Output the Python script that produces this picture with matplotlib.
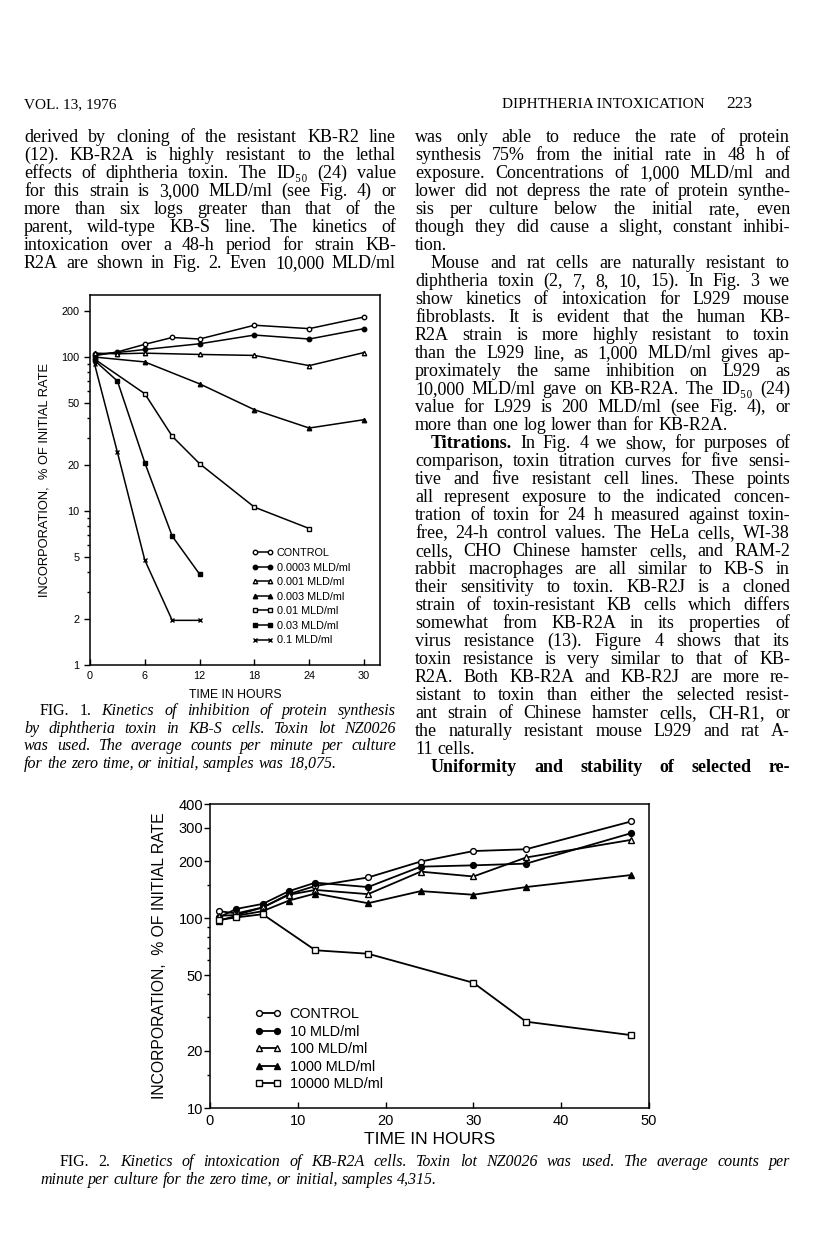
import matplotlib
matplotlib.use("Agg")
from matplotlib import pyplot as plt
from matplotlib.ticker import FixedLocator, NullFormatter, FixedFormatter

SERIF = ["Liberation Serif", "DejaVu Serif"]
SANS = ["Liberation Sans", "DejaVu Sans"]
W, H = 816, 1256

# ---- Fig. 1 : KB-S cells ----
fig1_labels = ["CONTROL", "0.0003 MLD/ml", "0.001 MLD/ml", "0.003 MLD/ml",
               "0.01 MLD/ml", "0.03 MLD/ml", "0.1 MLD/ml"]
fig1_markers = ["o", "o", "^", "^", "s", "s", "x"]
fig1_filled = [False, True, False, True, False, True, True]
fig1_hours = [
  [0.5, 3, 6, 9, 12, 18, 24, 30],
  [0.5, 3, 6, 12, 18, 24, 30],
  [0.5, 3, 6, 12, 18, 24, 30],
  [0.5, 6, 12, 18, 24, 30],
  [0.5, 6, 9, 12, 18, 24],
  [0.5, 3, 6, 9, 12],
  [0.5, 3, 6, 9, 12],
]
fig1_values = [
  [102, 108, 121, 134, 131, 161, 153, 182],
  [104, 107, 112, 122, 139, 131, 153],
  [106, 105, 106, 104, 102.5, 88, 107],
  [100, 93, 67, 45.5, 34.6, 39.2],
  [97, 57.8, 30.6, 20.3, 10.6, 7.7],
  [95, 69.9, 20.6, 6.87, 3.89],
  [90, 24.1, 4.8, 1.95, 1.95],
]
fig1_xticks = [0, 6, 12, 18, 24, 30]
fig1_yticks = [1, 2, 5, 10, 20, 50, 100, 200]

# ---- Fig. 2 : KB-R2A cells ----
fig2_labels = ["CONTROL", "10 MLD/ml", "100 MLD/ml", "1000 MLD/ml", "10000 MLD/ml"]
fig2_markers = ["o", "o", "^", "^", "s"]
fig2_filled = [False, True, False, True, False]
fig2_hours = [
  [1, 3, 6, 9, 12, 18, 24, 30, 36, 48],
  [1, 3, 6, 9, 12, 18, 24, 30, 36, 48],
  [1, 3, 6, 9, 12, 18, 24, 30, 36, 48],
  [1, 3, 6, 9, 12, 18, 24, 30, 36, 48],
  [1, 3, 6, 12, 18, 30, 36, 48],
]
fig2_values = [
  [109, 106, 114, 134, 148, 164, 199, 226, 231, 324],
  [101, 112, 119, 139, 154, 146, 187, 190, 194, 281],
  [103, 104, 114, 133, 141, 134, 176, 166, 209, 259],
  [97, 103, 109, 124, 135, 120, 139, 133, 146, 169],
  [98, 101, 105, 67.8, 65, 45.7, 28.5, 24.2],
]
fig2_xticks = [0, 10, 20, 30, 40, 50]
fig2_yticks = [10, 20, 50, 100, 200, 300, 400]

# ---- page text ----
left_col = [
  "derived by cloning of the resistant KB-R2 line",
  "(12). KB-R2A is highly resistant to the lethal",
  "effects of diphtheria toxin. The ID\u2085\u2080 (24) value",
  "for this strain is 3,000 MLD/ml (see Fig. 4) or",
  "more than six logs greater than that of the",
  "parent, wild-type KB-S line. The kinetics of",
  "intoxication over a 48-h period for strain KB-",
  "R2A are shown in Fig. 2. Even 10,000 MLD/ml",
]
right_col = [
  "was only able to reduce the rate of protein",
  "synthesis 75% from the initial rate in 48 h of",
  "exposure. Concentrations of 1,000 MLD/ml and",
  "lower did not depress the rate of protein synthe-",
  "sis per culture below the initial rate, even",
  "though they did cause a slight, constant inhibi-",
  "|tion.",
  ">Mouse and rat cells are naturally resistant to",
  "diphtheria toxin (2, 7, 8, 10, 15). In Fig. 3 we",
  "show kinetics of intoxication for L929 mouse",
  "fibroblasts. It is evident that the human KB-",
  "R2A strain is more highly resistant to toxin",
  "than the L929 line, as 1,000 MLD/ml gives ap-",
  "proximately the same inhibition on L929 as",
  "10,000 MLD/ml gave on KB-R2A. The ID\u2085\u2080 (24)",
  "value for L929 is 200 MLD/ml (see Fig. 4), or",
  "|more than one log lower than for KB-R2A.",
  ">*Titrations.* In Fig. 4 we show, for purposes of",
  "comparison, toxin titration curves for five sensi-",
  "tive and five resistant cell lines. These points",
  "all represent exposure to the indicated concen-",
  "tration of toxin for 24 h measured against toxin-",
  "free, 24-h control values. The HeLa cells, WI-38",
  "cells, CHO Chinese hamster cells, and RAM-2",
  "rabbit macrophages are all similar to KB-S in",
  "their sensitivity to toxin. KB-R2J is a cloned",
  "strain of toxin-resistant KB cells which differs",
  "somewhat from KB-R2A in its properties of",
  "virus resistance (13). Figure 4 shows that its",
  "toxin resistance is very similar to that of KB-",
  "R2A. Both KB-R2A and KB-R2J are more re-",
  "sistant to toxin than either the selected resist-",
  "ant strain of Chinese hamster cells, CH-R1, or",
  "the naturally resistant mouse L929 and rat A-",
  "|11 cells.",
  ">*Uniformity and stability of selected re-*",
]
cap1 = [
  ">FIG. 1. _Kinetics of inhibition of protein synthesis",
  "_by diphtheria toxin in KB-S cells. Toxin lot NZ0026",
  "_was used. The average counts per minute per culture",
  "|_for the zero time, or initial, samples was 18,075.",
]
cap2 = [
  ">FIG. 2. _Kinetics of intoxication of KB-R2A cells. Toxin lot NZ0026 was used. The average counts per",
  "|_minute per culture for the zero time, or initial, samples 4,315.",
]

fig = plt.figure(figsize=(W / 100, H / 100), dpi=100)
fig.patch.set_facecolor("white")
renderer = fig.canvas.get_renderer()


def put_line(line, x0, x1, y, size, indent=16):
  '''draw one justified line; ">" indents, "|" = last line, *bold*, _italic'''
  last = line.startswith("|")
  line = line.lstrip("|")
  if line.startswith(">"):
    x0 += indent
    line = line[1:]
  words, bold, italic = [], False, False
  for w in line.split():
    if w.startswith("_"):
      italic, w = True, w[1:]
    b = bold or w.startswith("*")
    if w.startswith("*"):
      bold = True
    if w.endswith("*"):
      bold = False
    words.append((w.strip("*"), b, italic))
  arts = [
    fig.text(0, 1 - y / H, w, fontsize=size, va="baseline",
             family=SERIF if not w.isascii() else "Liberation Serif",
             fontweight="bold" if b else "normal",
             fontstyle="italic" if it else "normal")
    for w, b, it in words
  ]
  widths = [a.get_window_extent(renderer).width for a in arts]
  space = size * 100 / 72 * 0.22
  natural = sum(widths) + space * (len(arts) - 1)
  if natural > x1 - x0:
    scale = (x1 - x0) / natural
    for a in arts:
      a.set_fontsize(size * scale)
    widths = [a.get_window_extent(renderer).width for a in arts]
    space *= scale
  gap = space * 1.2
  if not last and len(arts) > 1:
    gap = (x1 - x0 - sum(widths)) / (len(arts) - 1)
  x = x0
  for a, wd in zip(arts, widths):
    a.set_x(x / W)
    x += wd + gap


# header
fig.text(24 / W, 1 - 108 / H, "VOL. 13, 1976", fontsize=11, family="Liberation Serif",
         va="baseline")
fig.text(705 / W, 1 - 108 / H, "DIPHTHERIA INTOXICATION", fontsize=11,
         family="Liberation Serif", va="baseline", ha="right")
fig.text(752 / W, 1 - 108 / H, "223", fontsize=12.5, family="Liberation Serif",
         va="baseline", ha="right")

for i, line in enumerate(left_col):
  put_line(line, 24, 396, 142 + i * 18, 13)
for i, line in enumerate(right_col):
  put_line(line, 415, 790, 142 + i * 18, 13)
for i, line in enumerate(cap1):
  put_line(line, 24, 396, 715 + i * 17.5, 11.5)
for i, line in enumerate(cap2):
  put_line(line, 40, 790, 1166 + i * 17.5, 11.5, indent=20)


def style_axes(ax, tick_size, ypad, xticks, yticks, yminor):
  ax.set_yscale("log")
  ax.xaxis.set_major_locator(FixedLocator(xticks))
  ax.yaxis.set_major_locator(FixedLocator(yticks))
  ax.yaxis.set_major_formatter(FixedFormatter([str(v) for v in yticks]))
  ax.yaxis.set_minor_locator(FixedLocator(yminor))
  ax.yaxis.set_minor_formatter(NullFormatter())
  ax.tick_params(axis="x", direction="in", length=4, width=1, labelsize=tick_size, pad=4)
  ax.tick_params(axis="y", which="major", direction="out", length=4, width=1,
                 labelsize=tick_size, pad=ypad)
  ax.tick_params(axis="y", which="minor", direction="out", length=2.5, width=1)
  for lab in ax.get_xticklabels() + ax.get_yticklabels():
    lab.set_family(SANS)
  for sp in ax.spines.values():
    sp.set_linewidth(1.1)


def draw_series(ax, hours, values, labels, markers, filled, lw, ms):
  for h, v, lab, m, f in zip(hours, values, labels, markers, filled):
    ax.plot(h, v, color="black", lw=lw, marker=m, ms=ms, mew=1,
            mfc="black" if f else "white", mec="black", label=lab)


# ---- Fig. 1 axes ----
ax1 = fig.add_axes([90 / W, 1 - 665 / H, 290 / W, 370 / H])
draw_series(ax1, fig1_hours, fig1_values, fig1_labels, fig1_markers, fig1_filled, 1.1, 3.2)
style_axes(ax1, 7.8, 3.5, fig1_xticks, fig1_yticks,
           [3, 4, 6, 7, 8, 9, 30, 40, 60, 70, 80, 90])
ax1.set_xlim(0, 31.75)
ax1.set_ylim(1, 253)
ax1.set_xlabel("TIME IN HOURS", family=SANS, fontsize=8.8, labelpad=6)
ax1.set_ylabel("INCORPORATION,  % OF INITIAL RATE", family=SANS, fontsize=9.3, labelpad=8)
ax1.legend(loc="upper left", bbox_to_anchor=(252 / W, 1 - 548 / H),
           bbox_transform=fig.transFigure, frameon=False, borderpad=0,
           borderaxespad=0, handlelength=2.0, handletextpad=0.3,
           labelspacing=0.42, numpoints=2, prop={"family": SANS, "size": 7.8})

# ---- Fig. 2 axes ----
ax2 = fig.add_axes([210 / W, 1 - 1108 / H, 439 / W, 304 / H])
draw_series(ax2, fig2_hours, fig2_values, fig2_labels, fig2_markers, fig2_filled, 1.3, 4.2)
style_axes(ax2, 10.5, 1, fig2_xticks, fig2_yticks,
           [15, 30, 40, 60, 70, 80, 90, 150])
ax2.set_xlim(0, 50)
ax2.set_ylim(10, 400)
ax2.set_xlabel("TIME IN HOURS", family=SANS, fontsize=12.5, labelpad=3)
ax2.set_ylabel("INCORPORATION,  % OF INITIAL RATE", family=SANS, fontsize=11.3, labelpad=8)
ax2.legend(loc="upper left", bbox_to_anchor=(255 / W, 1 - 1007 / H),
           bbox_transform=fig.transFigure, frameon=False, borderpad=0,
           borderaxespad=0, handlelength=1.8, handletextpad=0.6,
           labelspacing=0.25, numpoints=2, prop={"family": SANS, "size": 10.4})

fig.savefig("out.png", dpi=100, facecolor="white")
